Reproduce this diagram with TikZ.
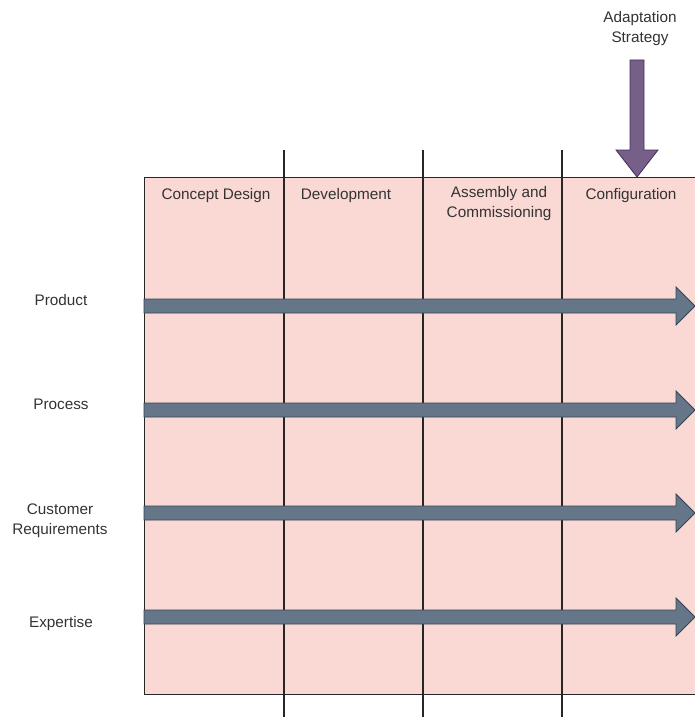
\documentclass[tikz,border=0pt]{standalone}
\usepackage{fontspec}
\setmainfont{Liberation Sans}
\begin{document}
\begin{tikzpicture}[x=1pt,y=-1pt,
  lbl/.style={font=\fontsize{15.3}{20}\selectfont, text=black!80, align=center, inner sep=0pt},
  phaseline/.style={draw=black!85, line width=1.3pt},
  flowarrow/.style={fill=arrowgray, draw=arrowedge, line width=0.8pt},
  adapt/.style={fill=adaptpurple, draw=adaptedge, line width=0.8pt}]
\definecolor{panelpink}{HTML}{FAD9D5}
\definecolor{arrowgray}{HTML}{647687}
\definecolor{arrowedge}{HTML}{314354}
\definecolor{adaptpurple}{HTML}{76608A}
\definecolor{adaptedge}{HTML}{432D57}
\useasboundingbox (0,0) rectangle (695,717);
\clip (0,0) rectangle (695,717);

% background panel
\draw[fill=panelpink, draw=black!85, line width=1pt] (144,177) rectangle (720,694);

% phase separators
\foreach \x/\n in {284/a,423/b,562/c}{
  \coordinate (top\n) at (\x,150);
  \coordinate (bot\n) at (\x,717);
  \draw[phaseline] (top\n) -- (bot\n);
}

% phase headers
\node[lbl] (concept) at (216,196) {Concept Design};
\node[lbl] (develop) at (346,196) {Development};
\node[lbl] (assembly) at (499,204) {Assembly and\\Commissioning};
\node[lbl] (config) at (631,196) {Configuration};

% row labels
\node[lbl] (product) at (61,300) {Product};
\node[lbl] (process) at (61,404) {Process};
\node[lbl] (customer) at (60,521) {Customer\\Requirements};
\node[lbl] (expertise) at (61,624) {Expertise};

% flow arrows across all phases
\foreach \y/\n in {306/p,410/q,513/r,617/s}{
  \coordinate (start\n) at (144,\y);
  \coordinate (tip\n) at (695,\y);
  \path[flowarrow] (start\n) ++(0,-7) -- ++(532,0) -- ++(0,-12) -- (tip\n)
     -- ++(-19,19) -- ++(0,-12) -- ++(-532,0) -- cycle;
}

% adaptation strategy input
\node[lbl] (strategy) at (640,29) {Adaptation\\Strategy};
\coordinate (adtop) at (637,60);
\coordinate (adtip) at (637,177);
\path[adapt] (adtop) ++(-7,0) -- ++(14,0) -- ++(0,90) -- ++(14,0) -- (adtip)
   -- ++(-21,-27) -- ++(14,0) -- cycle;
\end{tikzpicture}
\end{document}
